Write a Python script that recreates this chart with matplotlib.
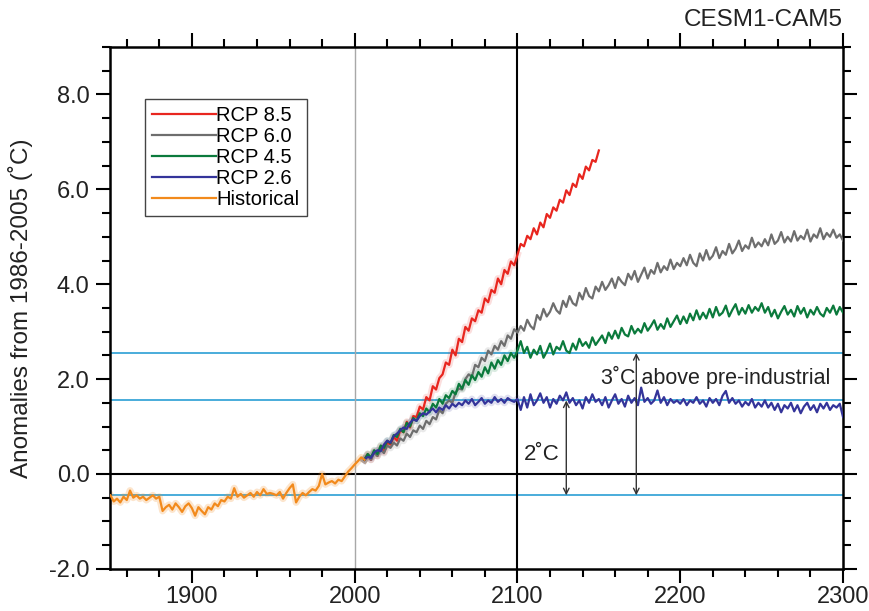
import numpy as np
import matplotlib
matplotlib.use("Agg")
import matplotlib.pyplot as plt

plt.rcParams['font.family'] = ['Liberation Sans', 'DejaVu Sans']

# ---------------------------------------------------------------------------
# Data (2-year sampling)
hist_start = 1850
hist = [-0.45, -0.58, -0.52, -0.60, -0.48, -0.55, -0.35, -0.50, -0.45, -0.52,
        -0.48, -0.55, -0.50, -0.45, -0.52, -0.48, -0.78, -0.70, -0.65, -0.75,
        -0.62, -0.70, -0.80, -0.68, -0.62, -0.72, -0.88, -0.70, -0.78, -0.85,
        -0.70, -0.75, -0.62, -0.68, -0.55, -0.58, -0.48, -0.52, -0.30, -0.48,
        -0.42, -0.50, -0.45, -0.40, -0.48, -0.38, -0.45, -0.32, -0.42, -0.40,
        -0.42, -0.45, -0.38, -0.52, -0.40, -0.30, -0.22, -0.60, -0.48, -0.40,
        -0.45, -0.38, -0.32, -0.35, -0.25, 0.00, -0.22, -0.18, -0.15, -0.20,
        -0.12, -0.15, -0.05, 0.05, 0.12, 0.20, 0.27, 0.35, 0.30]

rcp_start = 2006
rcp85 = [0.30, 0.42, 0.30, 0.48, 0.38, 0.58, 0.46, 0.66, 0.62, 0.78,
         0.70, 0.92, 0.88, 1.10, 0.98, 1.22, 1.20, 1.42, 1.36, 1.62,
         1.55, 1.85, 1.78, 2.02, 2.10, 2.35, 2.30, 2.62, 2.50, 2.85,
         2.78, 3.10, 3.02, 3.28, 3.22, 3.45, 3.40, 3.70, 3.62, 3.88,
         3.82, 4.12, 4.00, 4.30, 4.22, 4.48, 4.40, 4.62, 4.85, 4.80,
         5.02, 4.95, 5.18, 5.05, 5.30, 5.20, 5.48, 5.40, 5.62, 5.55,
         5.78, 5.72, 5.98, 5.88, 6.12, 6.05, 6.32, 6.22, 6.48, 6.40,
         6.62, 6.58, 6.82]

rcp60 = [0.30, 0.40, 0.30, 0.45, 0.38, 0.52, 0.44, 0.60, 0.55, 0.66, 0.60, 0.75,
         0.70, 0.85, 0.78, 0.92, 0.88, 1.02, 0.95, 1.12, 1.05, 1.20, 1.15,
         1.35, 1.28, 1.48, 1.55, 1.50, 1.72, 1.80, 1.78, 2.00, 2.10, 2.05, 2.30,
         2.25, 2.45, 2.38, 2.60, 2.52, 2.70, 2.62, 2.80, 2.70, 2.92, 2.85, 3.05, 2.98,
         3.12, 3.02, 3.25, 3.12, 3.05, 3.35, 3.25, 3.48, 3.32, 3.42, 3.60, 3.45,
         3.38, 3.65, 3.52, 3.75, 3.60, 3.55, 3.82, 3.68, 3.92, 3.75, 3.70, 3.95, 3.85,
         4.05, 3.88, 3.98, 4.12, 3.92, 4.15, 4.05, 3.98, 4.22, 4.10, 4.28, 4.05,
         4.20, 4.35, 4.12, 4.30, 4.22, 4.45, 4.25, 4.38, 4.30, 4.52, 4.32, 4.45, 4.38,
         4.55, 4.40, 4.62, 4.45, 4.38, 4.65, 4.50, 4.72, 4.52, 4.60, 4.78, 4.55,
         4.70, 4.62, 4.85, 4.65, 4.75, 4.92, 4.70, 4.82, 4.75, 4.98, 4.78, 4.88, 4.80,
         4.95, 4.82, 5.05, 4.85, 4.92, 5.10, 4.88, 5.00, 4.90, 5.12, 4.92, 5.02,
         4.95, 5.15, 4.90, 5.05, 4.98, 5.18, 4.95, 5.08, 5.00, 5.15, 4.98, 5.05, 4.92]

rcp45 = [0.30, 0.42, 0.35, 0.50, 0.42, 0.60, 0.55, 0.70, 0.65, 0.82, 0.78, 0.95,
         0.88, 1.08, 1.00, 1.18, 1.12, 1.28, 1.22, 1.38, 1.30, 1.48, 1.40,
         1.58, 1.48, 1.66, 1.60, 1.75, 1.68, 1.90, 1.80, 1.98, 1.88, 2.08, 1.98,
         2.15, 2.05, 2.25, 2.12, 2.35, 2.22, 2.40, 2.30, 2.50, 2.38, 2.55, 2.45, 2.60,
         2.80, 2.55, 2.68, 2.45, 2.62, 2.52, 2.70, 2.45, 2.58, 2.75, 2.52, 2.68,
         2.62, 2.80, 2.60, 2.55, 2.75, 2.62, 2.85, 2.70, 2.78, 2.66, 2.88, 2.72, 2.82,
         2.92, 2.76, 2.98, 2.85, 3.02, 2.86, 3.08, 2.94, 2.90, 3.12, 2.96, 3.06,
         2.98, 3.18, 3.02, 3.12, 3.24, 3.04, 3.16, 3.06, 3.28, 3.10, 3.22, 3.34, 3.16,
         3.32, 3.18, 3.38, 3.24, 3.45, 3.26, 3.40, 3.28, 3.48, 3.30, 3.52, 3.34,
         3.40, 3.55, 3.32, 3.46, 3.58, 3.36, 3.50, 3.38, 3.56, 3.40, 3.52, 3.44, 3.60,
         3.40, 3.52, 3.32, 3.46, 3.28, 3.42, 3.54, 3.36, 3.46, 3.32, 3.54, 3.38,
         3.50, 3.30, 3.46, 3.36, 3.52, 3.38, 3.32, 3.50, 3.40, 3.55, 3.36, 3.52, 3.40]

rcp26 = [0.30, 0.36, 0.34, 0.45, 0.50, 0.48, 0.62, 0.70, 0.66, 0.80, 0.85, 0.92,
         0.98, 0.95, 1.08, 1.15, 1.12, 1.22, 1.28, 1.25, 1.32, 1.38, 1.30,
         1.40, 1.35, 1.45, 1.38, 1.48, 1.42, 1.50, 1.45, 1.55, 1.48, 1.58, 1.45,
         1.52, 1.60, 1.48, 1.55, 1.50, 1.62, 1.52, 1.58, 1.50, 1.60, 1.55, 1.52, 1.58,
         1.35, 1.62, 1.40, 1.68, 1.45, 1.55, 1.70, 1.50, 1.62, 1.40, 1.58, 1.48,
         1.65, 1.55, 1.72, 1.50, 1.60, 1.45, 1.55, 1.38, 1.62, 1.50, 1.68, 1.52, 1.58,
         1.45, 1.62, 1.40, 1.55, 1.68, 1.48, 1.58, 1.42, 1.65, 1.50, 1.60, 1.45,
         1.82, 1.52, 1.60, 1.48, 1.55, 1.76, 1.50, 1.62, 1.45, 1.58, 1.50, 1.55, 1.48,
         1.58, 1.45, 1.55, 1.50, 1.62, 1.48, 1.55, 1.42, 1.60, 1.50, 1.58, 1.45,
         1.65, 1.75, 1.50, 1.60, 1.48, 1.55, 1.42, 1.52, 1.45, 1.58, 1.40, 1.50, 1.42,
         1.55, 1.40, 1.50, 1.35, 1.48, 1.30, 1.45, 1.38, 1.50, 1.32, 1.45, 1.28,
         1.42, 1.50, 1.35, 1.45, 1.30, 1.48, 1.38, 1.50, 1.35, 1.45, 1.40, 1.48, 1.20]

series_labels = ['RCP 8.5', 'RCP 6.0', 'RCP 4.5', 'RCP 2.6', 'Historical']
series_colors = ['#e8261f', '#6e6e6e', '#0b7a3c', '#34349a', '#f28a1c']

ref_levels = [-0.45, 1.55, 2.55]      # pre-industrial, +2C, +3C
arrow_2c = (2130, 1.55, -0.45)
arrow_3c = (2173, 2.55, -0.45)

# ---------------------------------------------------------------------------
fig = plt.figure(figsize=(8.7, 6.11), dpi=100)
ax = fig.add_axes([0.127, 0.069, 0.842, 0.854])

for lev in ref_levels:
    ax.axhline(lev, color='#3aa6d8', lw=1.3, zorder=1)
ax.axhline(0.0, color='black', lw=1.5, zorder=1)
ax.axvline(2000, color='#a8a8a8', lw=1.0, zorder=1)
ax.axvline(2100, color='black', lw=1.5, zorder=1)

hist_years = np.arange(hist_start, hist_start + 2 * len(hist), 2)
ax.plot(hist_years, hist, color=series_colors[4], lw=5, alpha=0.22, zorder=2)

handles = []
rcps = [rcp85, rcp60, rcp45, rcp26]
for vals, col in zip(rcps, series_colors[:4]):
    yrs = np.arange(rcp_start, rcp_start + 2 * len(vals), 2)
    v = np.array(vals)
    m = yrs <= 2100
    ax.plot(yrs[m], v[m], color=col, lw=5, alpha=0.15, zorder=2)
for vals, lab, col in zip(rcps, series_labels[:4], series_colors[:4]):
    yrs = np.arange(rcp_start, rcp_start + 2 * len(vals), 2)
    h, = ax.plot(yrs, vals, color=col, lw=1.6, label=lab, zorder=3)
    handles.append(h)
h, = ax.plot(hist_years, hist, color=series_colors[4], lw=1.6,
             label=series_labels[4], zorder=3)
handles.append(h)

# arrows and labels
for xa, ytop, ybot in [arrow_2c, arrow_3c]:
    ax.annotate('', xy=(xa, ybot), xytext=(xa, ytop),
                arrowprops=dict(arrowstyle='<->', color='#333333', lw=1.0,
                                shrinkA=0, shrinkB=0), zorder=4)
ax.text(2115, 0.42, '2\u02daC', fontsize=16, ha='center', va='center',
        color='#222222')
ax.text(2222, 2.03, '3\u02daC above pre-industrial', fontsize=15.5, ha='center',
        va='center', color='#222222')

ax.set_xlim(1850, 2300)
ax.set_ylim(-2.0, 9.0)
ax.set_xticks(np.arange(1900, 2301, 100))
ax.set_xticks(np.arange(1860, 2300, 20), minor=True)
ax.set_yticks(np.arange(-2, 9, 2))
ax.set_yticks(np.arange(-2, 9.01, 0.5), minor=True)
ax.set_yticklabels(['%.1f' % t for t in np.arange(-2, 9, 2)])
ax.tick_params(which='both', direction='out', top=True, right=True,
               width=1.5, labelsize=17, colors='black', labelcolor='#222222')
ax.tick_params(which='major', length=10)
ax.tick_params(axis='y', which='major', pad=5)
ax.tick_params(axis='x', which='major', pad=2)
ax.tick_params(which='minor', length=5.5)
for s in ax.spines.values():
    s.set_linewidth(1.8)

ax.set_ylabel('Anomalies from 1986-2005 (\u02daC)', fontsize=17.5,
              color='#222222')
ax.yaxis.set_label_coords(-0.106, 0.5)

leg = ax.legend(handles=handles, loc='upper left', bbox_to_anchor=(0.047, 0.900),
                fontsize=14.5, handlelength=3.2, handletextpad=0.0,
                labelspacing=0.1, borderpad=0.35, borderaxespad=0,
                fancybox=False, edgecolor='#444444', framealpha=1)
leg.get_frame().set_linewidth(1.0)

fig.text(0.969, 0.968, 'CESM1-CAM5', fontsize=17.5, ha='right', va='center',
         color='#222222')

fig.savefig('out.png', dpi=100)
